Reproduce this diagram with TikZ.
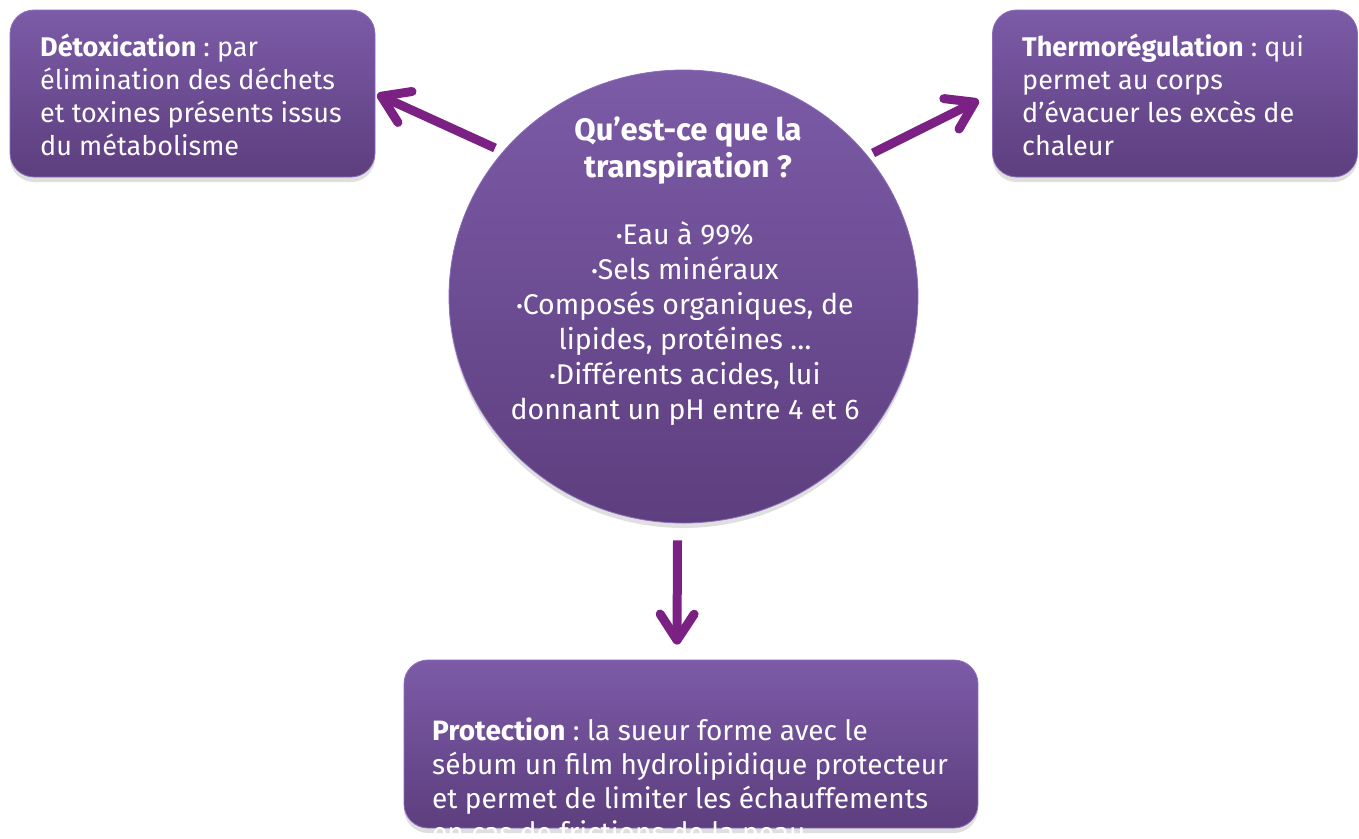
\documentclass[tikz,border=0pt]{standalone}
\usepackage{fontspec}
\setmainfont{Fira Sans}
\usetikzlibrary{arrows.meta,shadows,shapes.geometric}
\frenchspacing

\definecolor{boxTop}{HTML}{7C5BA7}
\definecolor{boxBot}{HTML}{5D3E7E}
\definecolor{boxEdge}{HTML}{8C6DBA}
\definecolor{arrowPurple}{HTML}{7A2183}

\tikzset{
  card/.style={rounded corners=24pt, top color=boxTop, bottom color=boxBot,
    draw=boxEdge, line width=0.8pt,
    drop shadow={shadow xshift=0pt, shadow yshift=-5pt, opacity=0.25}},
  disc/.style={ellipse, top color=boxTop, bottom color=boxBot,
    draw=boxEdge, line width=0.8pt,
    drop shadow={shadow xshift=0pt, shadow yshift=-5pt, opacity=0.25}},
  cardtext/.style={text=white, align=left, font=\fontsize{27}{33}\selectfont, inner sep=0pt},
  flow/.style={draw=arrowPurple, line width=9pt,
    -{Straight Barb[length=26pt, width=34pt, round]}},
}
\newcommand{\itm}{{\fontsize{20}{20}\selectfont\raisebox{1pt}{•}}}

\begin{document}
\begin{tikzpicture}[x=1pt, y=-1pt]
  \useasboundingbox (0,0) rectangle (1359,838);

  % boxes
  \node[card, minimum width=365pt, minimum height=167pt] (detox) at (192.5,93.5) {};
  \node[cardtext, anchor=west] (detoxTxt) at (40,94.5)
    {\textbf{Détoxication} : par\\élimination des déchets\\et toxines présents issus\\du métabolisme};
  \node[card, minimum width=365pt, minimum height=167pt] (thermo) at (1175,93.5) {};
  \node[cardtext, anchor=west] (thermoTxt) at (1022,94.5)
    {\textbf{Thermorégulation} : qui\\permet au corps\\d’évacuer les excès de\\chaleur};
  \node[card, minimum width=574pt, minimum height=168pt] (prot) at (691,744) {};
  \node[cardtext, anchor=north west, font=\fontsize{28}{34}\selectfont] (protTxt) at (432,718)
    {\textbf{Protection} : la sueur forme avec le\\sébum un film hydrolipidique protecteur\\et permet de limiter les échauffements\\en cas de frictions de la peau};

  % circle
  \node[disc, minimum width=469pt, minimum height=453pt] (circ) at (683.5,296.5) {};
  \node[cardtext, align=center, font=\bfseries\fontsize{31}{37}\selectfont] (title) at (688,151)
    {Qu’est-ce que la\\transpiration ?};
  \node[cardtext, align=center, font=\fontsize{28.5}{35}\selectfont] (items) at (685,324)
    {\itm Eau à 99\%\\\itm Sels minéraux\\\itm Composés organiques, de\\lipides, protéines …\\\itm Différents acides, lui\\donnant un pH entre 4 et 6};

  % arrows
  \coordinate (leftTail) at (495,148);
  \coordinate (rightTail) at (873,153);
  \draw[flow, shorten >=2pt] (leftTail) -- (detox.east);
  \draw[flow, shorten >=15pt] (rightTail) -- (thermo.west);
  \draw[flow] ([xshift=-6pt, yshift=-17pt]circ.south) -- ([xshift=-14pt, yshift=15pt]prot.north);
\end{tikzpicture}
\end{document}
